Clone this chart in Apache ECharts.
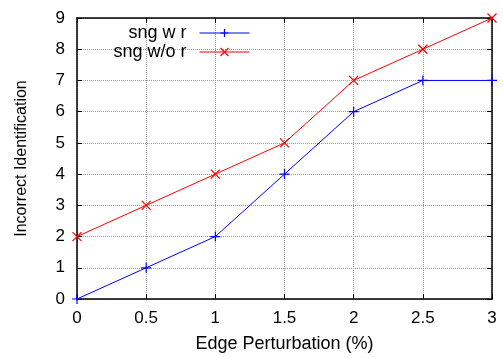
<!DOCTYPE html>
<html>
<head>
<meta charset="utf-8">
<script src="https://cdn.jsdelivr.net/npm/echarts@6/dist/echarts.min.js"></script>
<style>
  html, body { margin: 0; padding: 0; background: #fff; }
  #chart { width: 503px; height: 358px; }
</style>
</head>
<body>
<div id="chart"></div>
<script>
const xValues = [0, 0.5, 1, 1.5, 2, 2.5, 3]
const withR = [0, 1, 2, 4, 6, 7, 7]
const withoutR = [2, 3, 4, 5, 7, 8, 9]
const seriesNames = ['sng w r', 'sng w/o r']

const font = 'Liberation Sans, Arial, sans-serif'
const plus = 'path://M0,5L10,5M5,0L5,10'
const cross = 'path://M0,0L10,10M0,10L10,0'

const toPairs = (ys) => xValues.map((x, i) => [x, ys[i]])

const chart = echarts.init(document.getElementById('chart'), null, { renderer: 'canvas' })

const baseX = {
  type: 'value',
  min: 0,
  max: 3,
  interval: 0.5,
  axisLine: { show: true, onZero: false, lineStyle: { color: '#000', width: 1.5 } },
  axisTick: { show: true, inside: true, length: 5, lineStyle: { color: '#000' } },
}
const baseY = {
  type: 'value',
  min: 0,
  max: 9,
  interval: 1,
  axisLine: { show: true, onZero: false, lineStyle: { color: '#000', width: 1.5 } },
  axisTick: { show: true, inside: true, length: 5, lineStyle: { color: '#000' } },
}

const legendBase = {
  orient: 'vertical',
  right: 253,
  padding: 0,
  align: 'right',
  itemWidth: 50,
  itemHeight: 10,
  lineStyle: { width: 1 },
  itemStyle: { borderWidth: 1.2 },
  textStyle: { fontSize: 18, color: '#000', fontFamily: font, padding: [0, 8, 0, 0] },
}

chart.setOption({
  animation: false,
  textStyle: { fontFamily: font },
  grid: { left: 77, right: 11, top: 18, bottom: 59, containLabel: false },
  legend: [
    Object.assign({}, legendBase, { data: [seriesNames[0]], top: 24 }),
    Object.assign({}, legendBase, { data: [seriesNames[1]], top: 43 }),
  ],
  xAxis: [
    Object.assign({}, baseX, {
      position: 'bottom',
      name: 'Edge Perturbation (%)',
      nameLocation: 'middle',
      nameGap: 36,
      nameTextStyle: { fontSize: 18, color: '#000', fontFamily: font },
      axisLabel: { fontSize: 17, color: '#000', margin: 11, fontFamily: font },
      splitLine: { show: true, lineStyle: { type: 'dotted', color: '#999', width: 1 } },
    }),
    Object.assign({}, baseX, {
      position: 'top',
      axisLabel: { show: false },
      splitLine: { show: false },
    }),
  ],
  yAxis: [
    Object.assign({}, baseY, {
      position: 'left',
      name: 'Incorrect Identification',
      nameLocation: 'middle',
      nameGap: 47,
      nameTextStyle: { fontSize: 16, color: '#000', fontFamily: font },
      axisLabel: { fontSize: 17, color: '#000', margin: 12, fontFamily: font },
      splitLine: { show: true, lineStyle: { type: 'dotted', color: '#999', width: 1 } },
    }),
    Object.assign({}, baseY, {
      position: 'right',
      axisLabel: { show: false },
      splitLine: { show: false },
    }),
  ],
  series: [
    {
      name: seriesNames[0],
      type: 'line',
      data: toPairs(withR),
      symbol: plus,
      symbolSize: 10,
      showAllSymbol: true,
      lineStyle: { color: '#0000ff', width: 1 },
      itemStyle: { color: 'rgba(0,0,0,0)', borderColor: '#0000ff', borderWidth: 1.2 },
      emphasis: { disabled: true },
      z: 3,
    },
    {
      name: seriesNames[1],
      type: 'line',
      data: toPairs(withoutR),
      symbol: cross,
      symbolSize: 9,
      showAllSymbol: true,
      lineStyle: { color: '#ff0000', width: 1 },
      itemStyle: { color: 'rgba(0,0,0,0)', borderColor: '#ff0000', borderWidth: 1.2 },
      emphasis: { disabled: true },
      z: 4,
    },
  ],
})
</script>
</body>
</html>
